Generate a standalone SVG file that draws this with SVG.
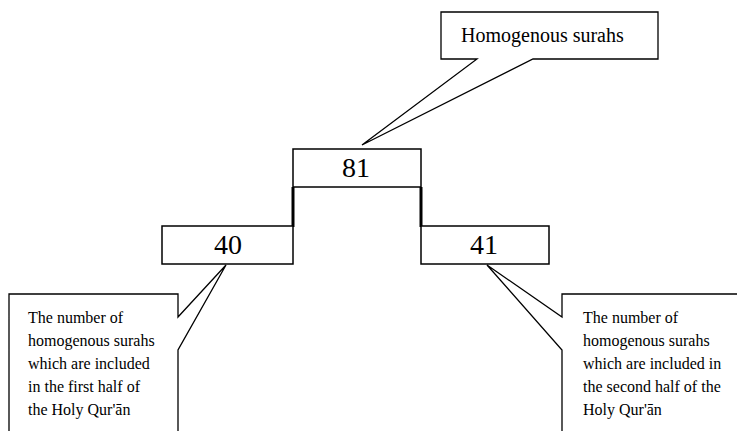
<svg xmlns="http://www.w3.org/2000/svg" width="737" height="431" viewBox="0 0 737 431">
<style>
.box{fill:#fff;stroke:#000;stroke-width:1.5}
.co{fill:#fff;stroke:#000;stroke-width:1.3;stroke-linejoin:miter}
.num{font-family:"Liberation Serif",serif;font-size:28px;text-anchor:middle;fill:#000}
.t{font-family:"Liberation Serif",serif;font-size:16px;fill:#000}
.big{font-family:"Liberation Serif",serif;font-size:20px;fill:#000}
.link{stroke:#000;stroke-width:3;fill:none}
</style>
<rect width="737" height="431" fill="#fff"/>
<g id="connectors">
<line class="link" x1="293" y1="187" x2="293" y2="227"/>
<line class="link" x1="421" y1="187" x2="421" y2="227"/>
</g>
<g id="callout-top">
<path class="co" d="M441,12 L658,12 L658,59 L533,59 L362,145 L477,59 L441,59 Z"/>
<text class="big" x="461" y="42">Homogenous surahs</text>
</g>
<g id="node-81">
<rect class="box" x="293" y="149" width="128" height="38"/>
<text class="num" x="356" y="177">81</text>
</g>
<g id="node-40">
<rect class="box" x="162" y="226" width="131" height="38"/>
<text class="num" x="228" y="254">40</text>
</g>
<g id="node-41">
<rect class="box" x="421" y="226" width="128" height="38"/>
<text class="num" x="484" y="254">41</text>
</g>
<g id="callout-left">
<path class="co" d="M9,440 L9,294 L178,294 L178,317 L226,265 L178,350 L178,440"/>
<text class="t" x="28" y="323">The number of</text>
<text class="t" x="28" y="346">homogenous surahs</text>
<text class="t" x="28" y="369">which are included</text>
<text class="t" x="28" y="392">in the first half of</text>
<text class="t" x="28" y="415">the Holy Qur'ān</text>
</g>
<g id="callout-right">
<path class="co" d="M740,294 L562,294 L562,317 L487,265 L562,350 L562,440"/>
<text class="t" x="583" y="323">The number of</text>
<text class="t" x="583" y="346">homogenous surahs</text>
<text class="t" x="583" y="369">which are included in</text>
<text class="t" x="583" y="392">the second half of the</text>
<text class="t" x="583" y="415">Holy Qur'ān</text>
</g>
</svg>
